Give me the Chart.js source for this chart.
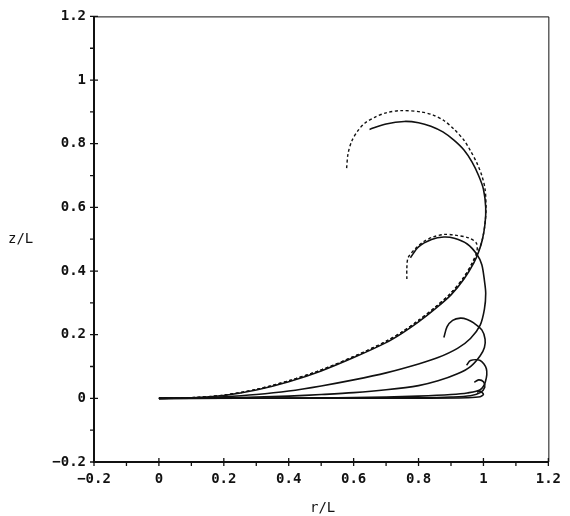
<!DOCTYPE html>
<html lang="en">
<head>
<meta charset="UTF-8">
<title>z/L versus r/L</title>
<script src="https://cdn.jsdelivr.net/npm/chart.js"></script>
<style>
  body { margin: 0; background: #fff; }
  #wrap { position: relative; width: 570px; height: 516px; }
  .axis-title { position: absolute; font: 14px "DejaVu Sans Mono", monospace; color: #111; }
</style>
</head>
<body>
<div id="wrap">
  <canvas id="rodChart" width="570" height="516"></canvas>
  <div class="axis-title" style="left: 8px; top: 230px;">z/L</div>
  <div class="axis-title" style="left: 310px; top: 499px;">r/L</div>
</div>
<script>
// tick values (labels only on the majors)
const xMajorTicks = [-0.2, 0, 0.2, 0.4, 0.6, 0.8, 1, 1.2];
const xMinorTicks = [-0.1, 0.1, 0.3, 0.5, 0.7, 0.9, 1.1];
const yMajorTicks = [-0.2, 0, 0.2, 0.4, 0.6, 0.8, 1, 1.2];
const yMinorTicks = [-0.1, 0.1, 0.3, 0.5, 0.7, 0.9, 1.1];

// solid curves, r/L and z/L
const c1R = [0, 0.1, 0.2, 0.3, 0.4, 0.5, 0.6, 0.7, 0.75, 0.8, 0.85, 0.9, 0.94, 0.97, 0.985, 0.997, 1.005, 1.007, 1.0, 0.985, 0.965, 0.94, 0.909, 0.875, 0.838, 0.80, 0.756, 0.70, 0.649];
const c1Z = [0, 0.002, 0.009, 0.026, 0.052, 0.086, 0.128, 0.175, 0.205, 0.24, 0.28, 0.325, 0.375, 0.425, 0.46, 0.50, 0.55, 0.60, 0.657, 0.70, 0.742, 0.78, 0.811, 0.837, 0.855, 0.866, 0.870, 0.862, 0.845];

const c2R = [0, 0.1, 0.2, 0.3, 0.4, 0.5, 0.6, 0.7, 0.8, 0.86, 0.92, 0.96, 0.99, 1.003, 1.007, 1.003, 0.995, 0.98, 0.95, 0.91, 0.878, 0.84, 0.80, 0.775];
const c2Z = [0, 0.001, 0.005, 0.012, 0.023, 0.039, 0.058, 0.08, 0.108, 0.128, 0.157, 0.188, 0.23, 0.28, 0.33, 0.37, 0.42, 0.452, 0.485, 0.503, 0.507, 0.499, 0.476, 0.442];

const c3R = [0, 0.1, 0.2, 0.3, 0.4, 0.5, 0.6, 0.7, 0.8, 0.86, 0.92, 0.96, 0.99, 1.003, 1.005, 0.995, 0.97, 0.95, 0.929, 0.905, 0.888, 0.878];
const c3Z = [0, 0.0003, 0.0015, 0.004, 0.007, 0.012, 0.018, 0.027, 0.04, 0.055, 0.077, 0.1, 0.134, 0.16, 0.186, 0.215, 0.237, 0.248, 0.252, 0.245, 0.225, 0.191];

const c4R = [0, 0.2, 0.3, 0.4, 0.5, 0.6, 0.7, 0.8, 0.9, 0.95, 0.99, 1.006, 1.009, 0.99, 0.96, 0.948];
const c4Z = [0, 0.0003, 0.0006, 0.001, 0.0015, 0.0025, 0.004, 0.007, 0.012, 0.017, 0.027, 0.052, 0.093, 0.119, 0.119, 0.104];

const c5R = [0, 0.4, 0.6, 0.8, 0.9, 0.96, 0.99, 1.004, 1.0, 0.985, 0.972];
const c5Z = [0, 0.0003, 0.001, 0.002, 0.004, 0.008, 0.018, 0.035, 0.052, 0.058, 0.05];

const c6R = [0, 0.5, 0.8, 0.95, 0.99, 1.0, 0.99, 0.98];
const c6Z = [0, 0.0002, 0.0006, 0.002, 0.005, 0.013, 0.022, 0.02];

// dashed curves
const d1R = [0, 0.1, 0.2, 0.3, 0.4, 0.5, 0.6, 0.7, 0.75, 0.8, 0.85, 0.9, 0.94, 0.97, 0.987, 0.999, 1.006, 1.008, 1.005, 0.995, 0.98, 0.96, 0.94, 0.91, 0.878, 0.845, 0.807, 0.746, 0.70, 0.665, 0.635, 0.614, 0.595, 0.583, 0.578];
const d1Z = [0, 0.002, 0.01, 0.028, 0.055, 0.089, 0.131, 0.179, 0.209, 0.245, 0.285, 0.331, 0.381, 0.432, 0.468, 0.51, 0.56, 0.60, 0.657, 0.70, 0.739, 0.778, 0.811, 0.845, 0.873, 0.89, 0.900, 0.904, 0.897, 0.883, 0.865, 0.842, 0.81, 0.77, 0.719];

const d2R = [0, 0.1, 0.2, 0.3, 0.4, 0.5, 0.6, 0.7, 0.75, 0.8, 0.85, 0.9, 0.94, 0.965, 0.98, 0.978, 0.955, 0.91, 0.878, 0.845, 0.817, 0.79, 0.768, 0.764, 0.764];
const d2Z = [0, 0.002, 0.01, 0.028, 0.055, 0.089, 0.131, 0.179, 0.209, 0.245, 0.285, 0.331, 0.381, 0.425, 0.462, 0.488, 0.504, 0.513, 0.515, 0.507, 0.493, 0.47, 0.442, 0.41, 0.375];

function pts(rs, zs) {
    return rs.map((r, i) => ({ x: r, y: zs[i] }));
}

function solid(rs, zs) {
    return { data: pts(rs, zs), borderColor: '#111', borderWidth: 1.6, showLine: true, pointRadius: 0, tension: 0.3, fill: false };
}

function dashed(rs, zs) {
    return { data: pts(rs, zs), borderColor: '#111', borderWidth: 1.4, borderDash: [3, 2.5], showLine: true, pointRadius: 0, tension: 0.3, fill: false };
}

function fmt(v) {
    return (Math.abs(v) < 1e-9 ? '0' : String(v)).replace('-', '\u2212');
}

function isMajor(list, v) {
    return list.some(m => Math.abs(m - v) < 1e-9);
}

// frame and "+" style tick marks like the original plotter output
const plotFrame = {
    id: 'plotFrame',
    afterDraw(chart) {
        const { ctx, chartArea: a, scales } = chart;
        const x = scales.x, y = scales.y;
        ctx.save();
        ctx.strokeStyle = '#111';
        ctx.lineWidth = 1;
        ctx.beginPath();
        ctx.moveTo(a.left, a.top + 0.5);
        ctx.lineTo(a.right + 0.5, a.top + 0.5);
        ctx.lineTo(a.right + 0.5, a.bottom);
        ctx.stroke();

        ctx.lineWidth = 2;
        ctx.beginPath();
        ctx.moveTo(a.left, a.top);
        ctx.lineTo(a.left, a.bottom);
        ctx.lineTo(a.right, a.bottom);
        ctx.stroke();

        ctx.lineWidth = 1.3;
        ctx.beginPath();
        xMajorTicks.forEach(v => {
            const px = x.getPixelForValue(v);
            ctx.moveTo(px, a.bottom - 4);
            ctx.lineTo(px, a.bottom + 4);
        });
        xMinorTicks.forEach(v => {
            const px = x.getPixelForValue(v);
            ctx.moveTo(px, a.bottom);
            ctx.lineTo(px, a.bottom + 4);
        });
        yMajorTicks.forEach(v => {
            const py = y.getPixelForValue(v);
            ctx.moveTo(a.left - 4, py);
            ctx.lineTo(a.left + 4, py);
        });
        yMinorTicks.forEach(v => {
            const py = y.getPixelForValue(v);
            ctx.moveTo(a.left - 4, py);
            ctx.lineTo(a.left, py);
        });
        ctx.stroke();
        ctx.restore();
    }
};

const tickFont = { family: '"DejaVu Sans Mono", monospace', size: 14, weight: 'bold' };

new Chart(document.getElementById('rodChart'), {
    type: 'scatter',
    data: {
        datasets: [
            solid(c1R, c1Z), solid(c2R, c2Z), solid(c3R, c3Z),
            solid(c4R, c4Z), solid(c5R, c5Z), solid(c6R, c6Z),
            dashed(d1R, d1Z), dashed(d2R, d2Z)
        ]
    },
    options: {
        responsive: false,
        animation: false,
        layout: { padding: { top: 11, right: 16, left: 0, bottom: 0 } },
        plugins: { legend: { display: false }, tooltip: { enabled: false } },
        scales: {
            x: {
                type: 'linear', min: -0.2, max: 1.2,
                grid: { display: false, drawTicks: false },
                border: { display: false },
                afterBuildTicks: s => { s.ticks = xMajorTicks.concat(xMinorTicks).sort((a, b) => a - b).map(v => ({ value: v })); },
                afterFit: s => { s.height = 54; },
                ticks: {
                    autoSkip: false, maxRotation: 0, padding: 9, color: '#111', font: tickFont,
                    callback: v => isMajor(xMajorTicks, v) ? fmt(v) : ''
                }
            },
            y: {
                type: 'linear', min: -0.2, max: 1.2,
                grid: { display: false, drawTicks: false },
                border: { display: false },
                afterBuildTicks: s => { s.ticks = yMajorTicks.concat(yMinorTicks).sort((a, b) => a - b).map(v => ({ value: v })); },
                afterFit: s => { s.width = 94; },
                ticks: {
                    autoSkip: false, padding: 8, color: '#111', font: tickFont,
                    callback: v => isMajor(yMajorTicks, v) ? fmt(v) : ''
                }
            }
        }
    },
    plugins: [plotFrame]
});
</script>
</body>
</html>
